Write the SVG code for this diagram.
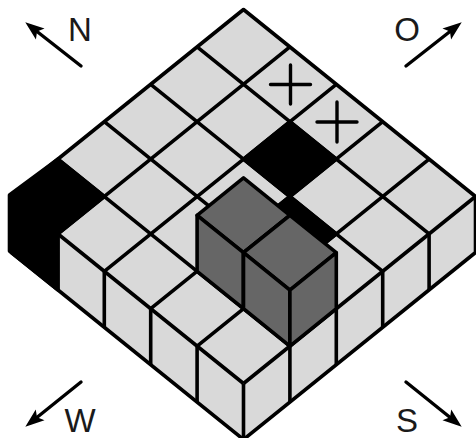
<svg xmlns="http://www.w3.org/2000/svg" width="476" height="438" viewBox="0 0 476 438">
<style>
.l{fill:#d9d9d9;stroke:#000;stroke-width:3.6;stroke-linejoin:round}
.k{fill:#000;stroke:#000;stroke-width:3.6;stroke-linejoin:round}
.d{fill:#666;stroke:#000;stroke-width:3.6;stroke-linejoin:round}
.g{fill:none;stroke:#000;stroke-width:3.6;stroke-linecap:butt}
.a{fill:none;stroke:#000;stroke-width:3.4;stroke-linecap:round}
.t{font-family:"Liberation Sans",Arial,sans-serif;font-size:33px;fill:#1a1a1a;text-anchor:middle}
</style>
<defs>
<marker id="ah" markerUnits="userSpaceOnUse" markerWidth="24" markerHeight="20" refX="16" refY="10" orient="auto" viewBox="0 0 24 20">
<path d="M22 10 L3 3 L7 10 L3 17 Z" fill="#000"/>
</marker>
</defs>
<g id="board">
<polygon class="l" points="243.5,9.5 475.5,196.5 475.5,252.5 243.5,439.5 11.5,252.5 11.5,196.5"/>
<g id="side-faces" class="g">
<path d="M57.9 233.9V289.9M104.3 271.3V327.3M150.7 308.7V364.7M197.1 346.1V402.1M243.5 383.5V439.5M289.9 346.1V402.1M336.3 308.7V364.7M382.7 271.3V327.3M429.1 233.9V289.9"/>
</g>
</g>
<g id="black-cell-west"><polygon class="k" points="57.9,159.1 104.3,196.5 57.9,233.9 57.9,289.9 9.5,251 9.5,195"/></g>
<g id="black-cell-center"><polygon class="k" points="289.9,121.7 336.3,159.1 289.9,196.5 243.5,159.1"/></g>
<g id="black-cell-under"><polygon class="k" points="289.9,196.5 336.3,233.9 289.9,271.3 243.5,233.9"/></g>
<g id="connectors">
<path class="g" d="M289.9 46.9L57.9 233.9M336.3 84.3L104.3 271.3M382.7 121.7L150.7 308.7M429.1 159.1L197.1 346.1M475.5 196.5L243.5 383.5"/>
<path class="g" d="M197.1 46.9L429.1 233.9M150.7 84.3L382.7 271.3M104.3 121.7L336.3 308.7M57.9 159.1L289.9 346.1M11.5 196.5L243.5 383.5"/>
<path class="a" d="M81 66L30 26" marker-end="url(#ah)"/>
<path class="a" d="M406 66L457 26" marker-end="url(#ah)"/>
<path class="a" d="M81 382L30 423" marker-end="url(#ah)"/>
<path class="a" d="M406 382L457 423" marker-end="url(#ah)"/>
</g>
<g id="cube-back">
<polygon class="d" points="243.5,177.9 289.9,215.3 243.5,252.7 197.1,215.3"/>
<polygon class="d" points="197.1,215.3 243.5,252.7 243.5,308.7 197.1,271.3"/>
<polygon class="d" points="289.9,215.3 243.5,252.7 243.5,308.7 289.9,271.3"/>
</g>
<g id="cube-front">
<polygon class="d" points="289.9,215.3 336.3,252.7 289.9,290.1 243.5,252.7"/>
<polygon class="d" points="243.5,252.7 289.9,290.1 289.9,346.1 243.5,308.7"/>
<polygon class="d" points="336.3,252.7 289.9,290.1 289.9,346.1 336.3,308.7"/>
</g>
<g id="marks" class="g">
<path class="a" d="M270.5 84.5H310.5M290.5 65V104"/>
<path class="a" d="M317 122H357M337 102V142"/>
</g>
<g id="labels">
<text class="t" x="80" y="41">N</text>
<text class="t" x="407" y="41">O</text>
<text class="t" x="80" y="432">W</text>
<text class="t" x="407" y="432">S</text>
</g>
</svg>
